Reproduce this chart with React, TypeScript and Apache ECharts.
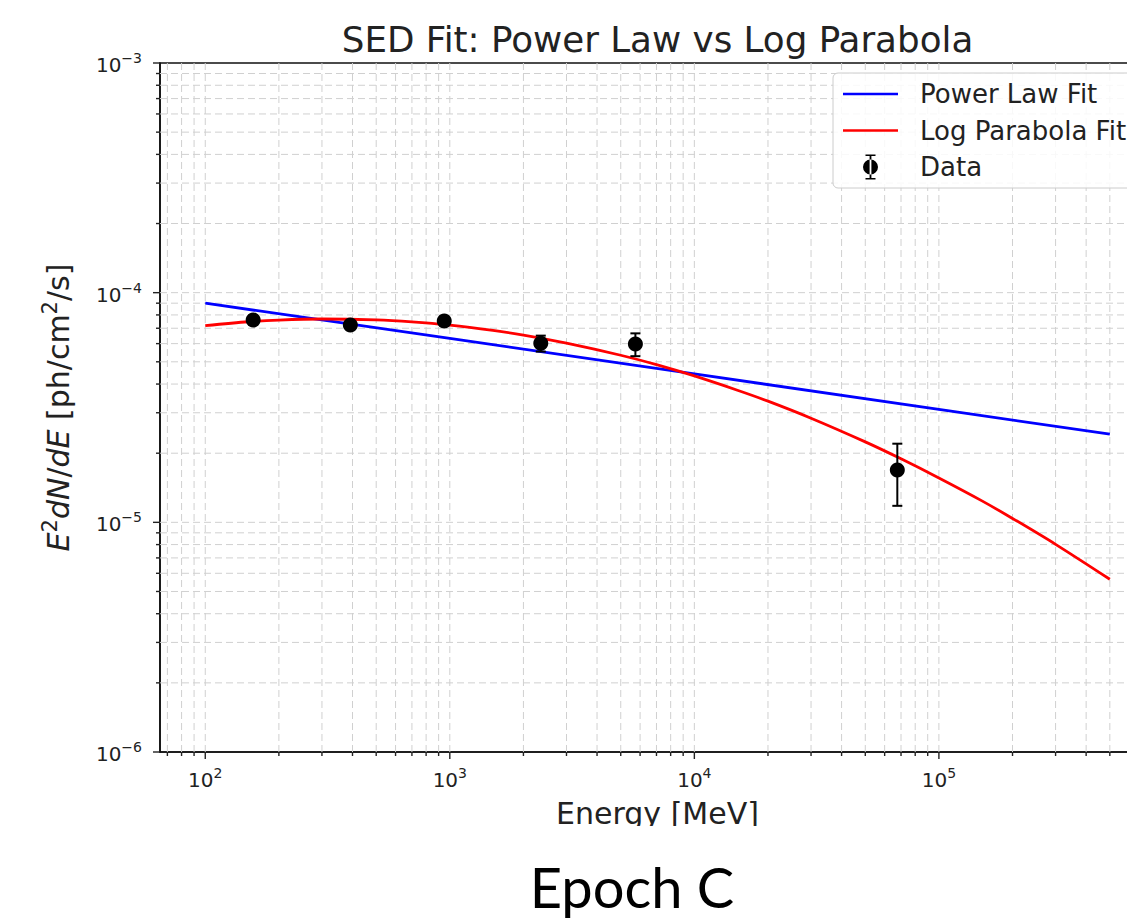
import React, { useEffect, useRef } from 'react';
import * as echarts from 'echarts';

const chartTitle = 'SED Fit: Power Law vs Log Parabola';
const xAxisTitle = 'Energy [MeV]';
const caption = 'Epoch C';
const legendNames = ['Power Law Fit', 'Log Parabola Fit', 'Data'];

// Measured data points (energy in MeV, E^2 dN/dE in ph/cm^2/s)
const dataEnergy = [157, 392, 949, 2355, 5740, 67600];
const dataFlux = [7.6e-5, 7.23e-5, 7.53e-5, 6.02e-5, 5.97e-5, 1.69e-5];
const dataError = [3.5e-6, 3.0e-6, 3.5e-6, 4.8e-6, 6.8e-6, 5.1e-6];

// Power law fit curve
const powerLawEnergy = [100, 1000, 10000, 100000, 500000];
const powerLawFlux = [9.0e-5, 6.32e-5, 4.43e-5, 3.1e-5, 2.42e-5];

// Log parabola fit curve
const logParabolaEnergy = [100, 150, 200, 300, 500, 700, 1000, 1500, 2000, 3000, 5000, 7000, 10000, 15000, 20000, 30000, 50000, 70000, 100000, 150000, 200000, 300000, 500000];
const logParabolaFlux = [7.19e-5, 7.47e-5, 7.6e-5, 7.68e-5, 7.61e-5, 7.46e-5, 7.22e-5, 6.85e-5, 6.54e-5, 6.03e-5, 5.34e-5, 4.86e-5, 4.34e-5, 3.76e-5, 3.37e-5, 2.84e-5, 2.24e-5, 1.89e-5, 1.56e-5, 1.24e-5, 1.04e-5, 8.02e-6, 5.65e-6];

// Axis tick labels
const xMajorTicks = [100, 1000, 10000, 100000];
const yMajorTicks = [1e-6, 1e-5, 1e-4, 1e-3];

const X_MIN = 65.3;
const X_MAX = 7.65e5;
const Y_MIN = 1e-6;
const Y_MAX = 1e-3;

function minorTicks(decades: number[], lo: number, hi: number): number[] {
  const out: number[] = [];
  decades.forEach((d) => {
    for (let k = 2; k <= 9; k++) {
      const v = k * d;
      if (v > lo && v < hi) out.push(v);
    }
  });
  return out;
}

const xMinorTicks = minorTicks([10, 100, 1000, 10000, 100000], X_MIN, X_MAX);
const yMinorTicks = minorTicks([1e-6, 1e-5, 1e-4], Y_MIN, Y_MAX);

const FONT = 'DejaVu Sans';

function powLabel(v: number): string {
  const l = Math.log10(v);
  const e = Math.round(l);
  if (Math.abs(l - e) > 1e-6) return '';
  const es = e < 0 ? '\u2212' + String(-e) : String(e);
  return '{b|10}{s|' + es + '}';
}

const tickRich = {
  b: { fontSize: 20, fontFamily: FONT, color: '#222', lineHeight: 24, verticalAlign: 'bottom' },
  s: { fontSize: 14, fontFamily: FONT, color: '#222', lineHeight: 16, verticalAlign: 'top' },
};

const GRID_COLOR = '#d0d0d0';
const SPINE = '#111';

export default function App() {
  const ref = useRef<HTMLDivElement>(null);

  useEffect(() => {
    if (!ref.current) return;
    const chart = echarts.init(ref.current, null, { renderer: 'svg' });

    const gridLineX = (params: any, api: any) => {
      const v = api.value(0);
      const a = api.coord([v, Y_MIN]);
      const b = api.coord([v, Y_MAX]);
      return {
        type: 'line',
        shape: { x1: a[0], y1: a[1], x2: b[0], y2: b[1] },
        style: { stroke: GRID_COLOR, lineWidth: 1, lineDash: [7, 4] },
      };
    };
    const gridLineY = (params: any, api: any) => {
      const v = api.value(1);
      const a = api.coord([X_MIN, v]);
      const b = api.coord([X_MAX, v]);
      return {
        type: 'line',
        shape: { x1: a[0], y1: a[1], x2: b[0], y2: b[1] },
        style: { stroke: GRID_COLOR, lineWidth: 1, lineDash: [7, 4] },
      };
    };
    const tickX = (params: any, api: any) => {
      const v = api.value(0);
      const len = api.value(2);
      const a = api.coord([v, Y_MIN]);
      return {
        type: 'line',
        shape: { x1: a[0], y1: a[1], x2: a[0], y2: a[1] + len },
        style: { stroke: '#222', lineWidth: 1.4 },
      };
    };
    const tickY = (params: any, api: any) => {
      const v = api.value(1);
      const len = api.value(2);
      const a = api.coord([X_MIN, v]);
      return {
        type: 'line',
        shape: { x1: a[0], y1: a[1], x2: a[0] - len, y2: a[1] },
        style: { stroke: '#222', lineWidth: 1.4 },
      };
    };
    const errorBar = (params: any, api: any) => {
      const x = api.value(0);
      const lo = api.value(2);
      const hi = api.value(3);
      const pLo = api.coord([x, lo]);
      const pHi = api.coord([x, hi]);
      const cap = 5;
      const st = { stroke: '#000', lineWidth: 2 };
      return {
        type: 'group',
        children: [
          { type: 'line', shape: { x1: pLo[0], y1: pLo[1], x2: pHi[0], y2: pHi[1] }, style: st },
          { type: 'line', shape: { x1: pHi[0] - cap, y1: pHi[1], x2: pHi[0] + cap, y2: pHi[1] }, style: st },
          { type: 'line', shape: { x1: pLo[0] - cap, y1: pLo[1], x2: pLo[0] + cap, y2: pLo[1] }, style: st },
        ],
      };
    };

    const dataIcon =
      'path://M2.5 0H12.5V1.6H2.5Z M6.6 0H8.4V25H6.6Z M2.5 23.4H12.5V25H2.5Z M0 12.5A7.5 7.5 0 1 0 15 12.5A7.5 7.5 0 1 0 0 12.5Z';
    const lineIcon = 'path://M0 0H110V5.4H0Z';

    chart.setOption({
      animation: false,
      backgroundColor: '#fff',
      textStyle: { fontFamily: FONT },
      grid: {
        left: 160,
        top: 63,
        right: 45,
        bottom: 169,
        show: true,
        borderColor: SPINE,
        borderWidth: 1.6,
        backgroundColor: 'transparent',
      },
      legend: {
        show: true,
        orient: 'vertical',
        left: 833,
        top: 73,
        itemWidth: 55,
        itemHeight: 25,
        itemGap: 10.5,
        padding: [8, 10, 8, 10],
        borderColor: '#cccccc',
        borderWidth: 1,
        borderRadius: 5,
        backgroundColor: 'rgba(255,255,255,0.85)',
        selectedMode: false,
        textStyle: { fontSize: 26, fontFamily: FONT, color: '#222', padding: [0, 0, 0, 17] },
        data: [
          { name: legendNames[0], icon: lineIcon, itemStyle: { color: '#0000ff' } },
          { name: legendNames[1], icon: lineIcon, itemStyle: { color: '#ff0000' } },
          { name: legendNames[2], icon: dataIcon },
        ],
      },
      xAxis: {
        type: 'log',
        logBase: 10,
        min: X_MIN,
        max: X_MAX,
        axisLine: { show: true, lineStyle: { color: SPINE, width: 1.6 } },
        axisTick: { show: false },
        splitLine: { show: false },
        axisLabel: {
          customValues: xMajorTicks,
          formatter: (v: number) => powLabel(v),
          margin: 14,
          rich: tickRich,
        },
        name: xAxisTitle,
        nameLocation: 'middle',
        nameGap: 46,
        nameTextStyle: { fontSize: 30, fontFamily: FONT, color: '#222' },
      },
      yAxis: {
        type: 'log',
        logBase: 10,
        min: Y_MIN,
        max: Y_MAX,
        axisLine: { show: true, lineStyle: { color: SPINE, width: 1.6 } },
        axisTick: { show: false },
        splitLine: { show: false },
        axisLabel: {
          customValues: yMajorTicks,
          formatter: (v: number) => powLabel(v),
          margin: 18,
          rich: tickRich,
        },
        name: '{i|E}{s|2}{i|dN}{n|/}{i|dE}{n| [ph/cm}{s|2}{n|/s]}',
        nameLocation: 'middle',
        nameGap: 87,
        nameRotate: 90,
        nameTextStyle: {
          fontSize: 30,
          fontFamily: FONT,
          color: '#222',
          rich: {
            i: { fontSize: 30, fontFamily: FONT, fontStyle: 'italic', color: '#222', lineHeight: 34, verticalAlign: 'bottom' },
            n: { fontSize: 30, fontFamily: FONT, color: '#222', lineHeight: 34, verticalAlign: 'bottom' },
            s: { fontSize: 21, fontFamily: FONT, color: '#222', lineHeight: 24, verticalAlign: 'top' },
          },
        },
      },
      graphic: [
        {
          type: 'text',
          x: 657.5,
          y: 39,
          z: 50,
          style: { text: chartTitle, fontSize: 35.7, fontFamily: FONT, fill: '#222', textAlign: 'center', textVerticalAlign: 'middle' },
        },
        {
          type: 'rect',
          z: 100,
          shape: { x: 150, y: 826, width: 1050, height: 22 },
          style: { fill: '#fff' },
        },
        {
          type: 'text',
          x: 632,
          y: 886,
          z: 101,
          style: { text: caption, fontSize: 56, lineHeight: 56, fontFamily: 'Lato', fill: '#000', textAlign: 'center', textVerticalAlign: 'middle' },
        },
      ],
      series: [
        {
          type: 'custom',
          name: 'gridX',
          coordinateSystem: 'cartesian2d',
          silent: true,
          z: 1,
          renderItem: gridLineX,
          data: [...xMajorTicks, ...xMinorTicks].map((v) => [v, Y_MIN]),
        },
        {
          type: 'custom',
          name: 'gridY',
          coordinateSystem: 'cartesian2d',
          silent: true,
          z: 1,
          renderItem: gridLineY,
          data: [...yMajorTicks.slice(1, -1), ...yMinorTicks].map((v) => [X_MIN, v]),
        },
        {
          type: 'custom',
          name: 'ticksX',
          coordinateSystem: 'cartesian2d',
          silent: true,
          clip: false,
          z: 3,
          renderItem: tickX,
          data: [...xMajorTicks.map((v) => [v, Y_MIN, 7]), ...xMinorTicks.map((v) => [v, Y_MIN, 4])],
        },
        {
          type: 'custom',
          name: 'ticksY',
          coordinateSystem: 'cartesian2d',
          silent: true,
          clip: false,
          z: 3,
          renderItem: tickY,
          data: [...yMajorTicks.map((v) => [X_MIN, v, 7]), ...yMinorTicks.map((v) => [X_MIN, v, 4])],
        },
        {
          type: 'line',
          name: legendNames[0],
          data: powerLawEnergy.map((e, i) => [e, powerLawFlux[i]]),
          symbol: 'none',
          showSymbol: false,
          lineStyle: { color: '#0000ff', width: 2.8 },
          itemStyle: { color: '#0000ff' },
          z: 4,
        },
        {
          type: 'line',
          name: legendNames[1],
          data: logParabolaEnergy.map((e, i) => [e, logParabolaFlux[i]]),
          symbol: 'none',
          showSymbol: false,
          smooth: 0.3,
          lineStyle: { color: '#ff0000', width: 2.8 },
          itemStyle: { color: '#ff0000' },
          z: 4,
        },
        {
          type: 'custom',
          name: 'errors',
          coordinateSystem: 'cartesian2d',
          silent: true,
          z: 5,
          renderItem: errorBar,
          data: dataEnergy.map((e, i) => [e, dataFlux[i], dataFlux[i] - dataError[i], dataFlux[i] + dataError[i]]),
        },
        {
          type: 'scatter',
          name: legendNames[2],
          data: dataEnergy.map((e, i) => [e, dataFlux[i]]),
          symbol: 'circle',
          symbolSize: 15,
          itemStyle: { color: '#000', opacity: 1 },
          z: 6,
        },
      ],
    });

    return () => {
      chart.dispose();
    };
  }, []);

  return (
    <div style={{ position: 'absolute', left: 0, top: 0, width: 1127, height: 921, overflow: 'hidden', background: '#fff' }}>
      <div ref={ref} style={{ width: 1200, height: 921 }} />
    </div>
  );
}
